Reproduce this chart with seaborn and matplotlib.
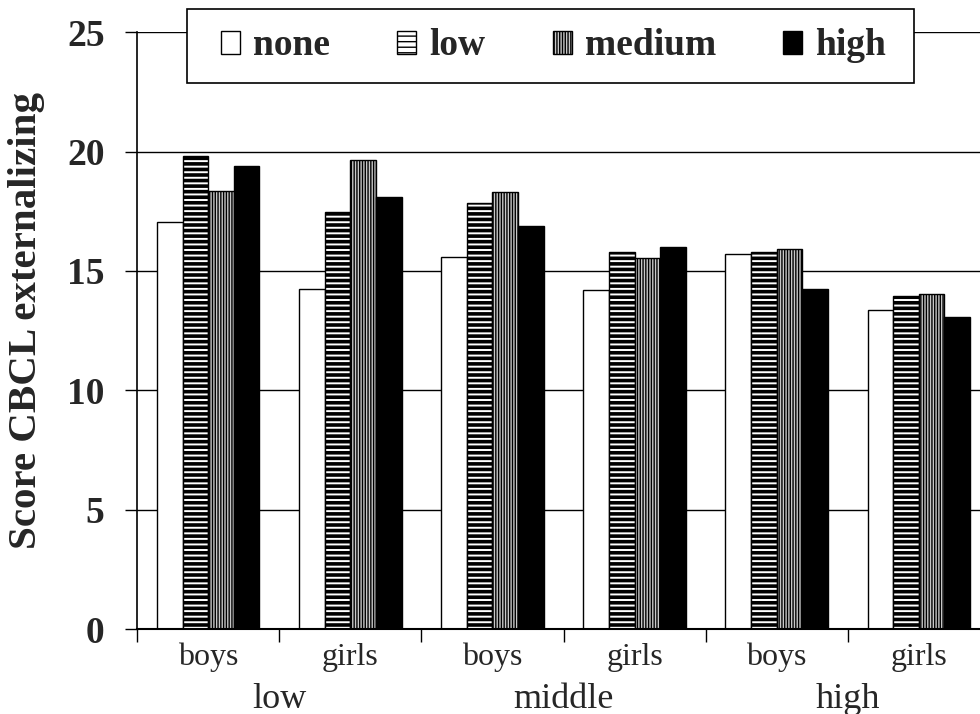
import pandas as pd
import matplotlib
matplotlib.use("Agg")
import matplotlib.pyplot as plt
import matplotlib.transforms as mtransforms
from matplotlib.patches import Rectangle
from matplotlib.ticker import FixedLocator
import seaborn as sns

# data
CATEGORIES = ["low boys", "low girls", "middle boys", "middle girls", "high boys", "high girls"]
TICK_LABELS = ["boys", "girls", "boys", "girls", "boys", "girls"]
GROUP_LABELS = ["low", "middle", "high"]
LEVELS = ["none", "low", "medium", "high"]

none_vals = [17.05, 14.25, 15.6, 14.2, 15.7, 13.35]
low_vals = [19.8, 17.45, 17.85, 15.8, 15.8, 13.95]
medium_vals = [18.35, 19.65, 18.3, 15.55, 15.9, 14.05]
high_vals = [19.4, 18.1, 16.9, 16.0, 14.25, 13.05]

sns.set_theme(style="white")
plt.rcParams["font.family"] = ["Liberation Serif", "DejaVu Serif"]
plt.rcParams["hatch.linewidth"] = 1.0

rows = []
for level, vals in zip(LEVELS, [none_vals, low_vals, medium_vals, high_vals]):
    for cat, v in zip(CATEGORIES, vals):
        rows.append({"Category": cat, "Level": level, "Score": v})
df = pd.DataFrame(rows)

fig = plt.figure(figsize=(9.8, 7.14), dpi=100)
ax = fig.add_axes([0.14, 0.119, 0.87, 0.836])

palette = {"none": "white", "low": "white", "medium": "#c8c8c8", "high": "black"}
sns.barplot(data=df, x="Category", y="Score", hue="Level", order=CATEGORIES,
            hue_order=LEVELS, palette=palette, width=0.72, edgecolor="black",
            linewidth=1.0, saturation=1, legend=False, ax=ax)

hatches = {"none": "", "low": "---", "medium": "||||||", "high": ""}
hatch_lw = {"none": 1.0, "low": 2.6, "medium": 1.0, "high": 1.0}
for cont, level in zip(ax.containers, LEVELS):
    for p in cont.patches:
        p.set_hatch(hatches[level])
        if hasattr(p, "set_hatch_linewidth"):
            p.set_hatch_linewidth(hatch_lw[level])

ax.set_ylim(0, 25)
ax.set_xlim(-0.5, 5.5)
ax.set_yticks([0, 5, 10, 15, 20, 25])
ax.yaxis.grid(True, color="black", linewidth=1.0)
ax.set_axisbelow(True)
for s in ["top", "right"]:
    ax.spines[s].set_visible(False)
ax.spines["left"].set_color("black")
ax.spines["bottom"].set_color("black")
ax.spines["left"].set_linewidth(1.2)
ax.spines["bottom"].set_linewidth(1.5)

ax.tick_params(axis="y", which="major", direction="out", length=8.5, width=1,
               color="black", left=True, labelsize=27, pad=15)
for lab in ax.get_yticklabels():
    lab.set_fontweight("bold")

ax.set_xticks(range(len(CATEGORIES)))
ax.set_xticklabels(TICK_LABELS, fontsize=23)
ax.tick_params(axis="x", which="major", length=0, pad=10)
ax.xaxis.set_minor_locator(FixedLocator([i - 0.5 for i in range(len(CATEGORIES) + 1)]))
ax.tick_params(axis="x", which="minor", direction="out", length=9, width=1,
               color="black", bottom=True)
ax.set_xlabel("")

ax.set_ylabel("Score CBCL externalizing", fontsize=29.5, fontweight="bold")
ax.yaxis.set_label_coords(-0.108, 0.517)

trans = mtransforms.blended_transform_factory(ax.transData, ax.transAxes)
for i, g in enumerate(GROUP_LABELS):
    ax.text(2 * i + 0.5, -0.1315, g, transform=trans, ha="center", va="baseline",
            fontsize=26)

# legend box drawn by hand so its padding can differ across and down
box = Rectangle((187 / 980, 1 - 83 / 714), (914 - 187) / 980, 74 / 714,
                transform=fig.transFigure, facecolor="white", edgecolor="black",
                linewidth=1.2, zorder=4)
fig.add_artist(box)
leg = fig.legend(ax.containers, LEVELS, loc="center", ncol=4,
                 bbox_to_anchor=(0.5648, 0.9356), frameon=False,
                 handlelength=0.5, handleheight=0.55, handletextpad=0.35,
                 columnspacing=1.8, borderpad=0.0,
                 prop={"weight": "bold", "size": 27})
leg.set_zorder(5)

fig.savefig("out.png", dpi=100)
